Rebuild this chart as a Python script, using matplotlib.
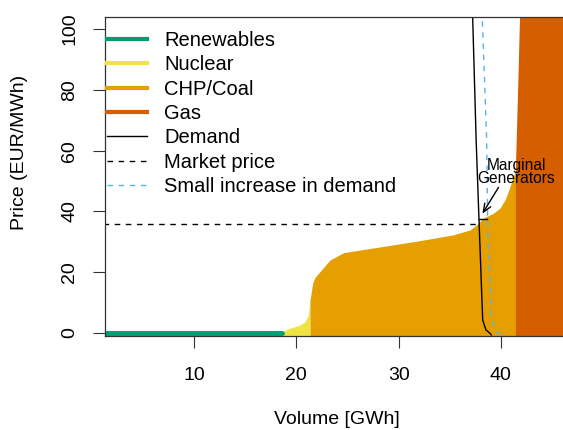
import matplotlib
matplotlib.use("Agg")
import matplotlib.pyplot as plt
from matplotlib.lines import Line2D

plt.rcParams["font.family"] = ["Liberation Sans", "DejaVu Sans"]

# merit order supply curve (GWh, EUR/MWh)
renew_x = [0.0, 18.6]
renew_y = [0.0, 0.0]

nuclear_x = [18.6, 19.06, 19.71, 20.36, 20.85, 21.18, 21.34]
nuclear_y = [0.1, 1.2, 1.9, 2.6, 3.7, 5.9, 10.9]

coal_x = [21.34, 21.4, 21.6, 21.83, 22.32, 23.29, 24.6, 26.23, 29.48, 32.09,
          35.35, 36.98, 37.63, 38.28, 39.26, 39.91, 40.4, 40.72, 41.06, 41.38, 41.54]
coal_y = [10.9, 12.0, 16.4, 18.3, 20.2, 24.0, 26.4, 27.3, 29.0, 30.4,
          32.3, 33.9, 35.6, 37.8, 39.4, 41.1, 43.8, 46.5, 49.8, 53.1, 54.4]

gas_x = [41.47, 41.6, 41.75, 41.87, 42.0, 47.0]
gas_y = [54.5, 70.0, 88.0, 104.0, 130.0, 300.0]

demand_x = [37.19, 37.24, 37.58, 37.86, 38.22, 38.54, 38.93, 39.06]
demand_y = [110.0, 104.0, 63.5, 37.2, 4.3, 1.0, -0.1, -0.66]

demand_up_x = [38.14, 38.18, 38.61, 38.71, 39.1, 39.59, 40.0]
demand_up_y = [110.0, 104.0, 63.5, 35.0, 4.3, 0.4, -0.66]

market_price = 35.9
marginal_x = [37.86, 38.67]
marginal_y = [37.5, 37.5]

labels = ["Renewables", "Nuclear", "CHP/Coal", "Gas", "Demand",
          "Market price", "Small increase in demand"]
colors = ["#009E73", "#F0E442", "#E69F00", "#D55E00"]
blue = "#56B4E9"

W, H = 563, 430
fig = plt.figure(figsize=(W / 100, H / 100), dpi=100)
ax = fig.add_axes([105 / W, 1 - 336 / H, (568 - 105) / W, (336 - 17) / H])
ax.set_xlim(1.30, 46.56)
ax.set_ylim(-1.0, 104.0)

base = -5
ax.fill_between(nuclear_x, nuclear_y, base, color=colors[1], lw=0)
ax.fill_between(coal_x, coal_y, base, color=colors[2], lw=0)
ax.fill_between(gas_x, gas_y, base, color=colors[3], lw=0)
ax.plot(renew_x, renew_y, color=colors[0], lw=3.5, solid_capstyle="round")

ax.plot(demand_x, demand_y, color="black", lw=1)
ax.plot(demand_up_x, demand_up_y, color=blue, lw=1, ls=(0, (4, 4)))
ax.plot([0, demand_x[3]], [market_price, market_price], color="black", lw=1, ls=(0, (4, 4)))
ax.plot(marginal_x, marginal_y, color="black", lw=1)

ax.annotate("", xy=(38.05, 38.5), xytext=(39.91, 48.7),
            arrowprops=dict(arrowstyle="->,head_length=0.6,head_width=0.25", color="black", lw=1))
ax.text(41.51, 53.1, "Marginal\nGenerators", ha="center", va="center",
        fontsize=11.2, linespacing=0.85)

ax.set_xticks([10, 20, 30, 40])
ax.set_yticks([0, 20, 40, 60, 80, 100])
ax.set_yticklabels(["0", "20", "40", "60", "80", "100"], rotation=90, va="center")
ax.tick_params(length=8.6, width=0.8, color="#333333", labelsize=14)
ax.tick_params(axis="x", pad=14)
ax.tick_params(axis="y", pad=10.5)
for s in ax.spines.values():
    s.set_color("#333333")
    s.set_linewidth(0.9)

fig.text(336.7 / W, 1 - 420 / H, "Volume [GWh]", ha="center", va="center", fontsize=14)
fig.text(20 / W, 1 - 152 / H, "Price (EUR/MWh)", ha="center", va="center", rotation=90, fontsize=14)

handles = [Line2D([], [], color=c, lw=3) for c in colors]
handles.append(Line2D([], [], color="black", lw=1))
handles.append(Line2D([], [], color="black", lw=1, ls=(0, (4, 4))))
handles.append(Line2D([], [], color=blue, lw=1, ls=(0, (4, 4))))
ax.legend(handles, labels, loc="upper left", bbox_to_anchor=(107 / W, 1 - 31 / H),
          bbox_transform=fig.transFigure, frameon=False, fontsize=14.5,
          borderpad=0, borderaxespad=0, handlelength=2.0, handletextpad=0.85,
          labelspacing=0.265)

fig.savefig("out.png", dpi=100)
